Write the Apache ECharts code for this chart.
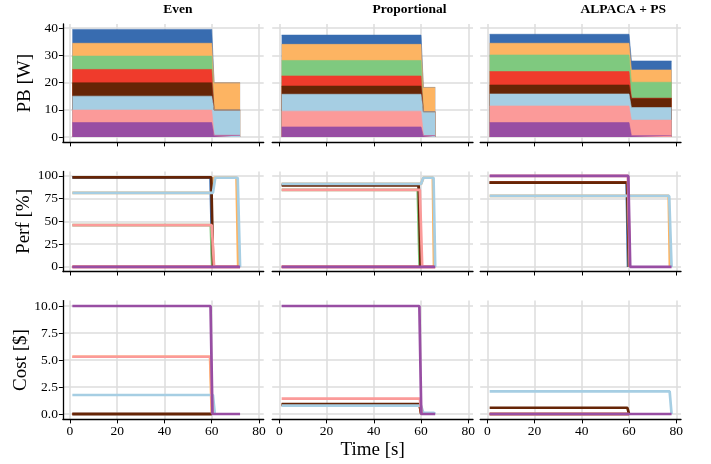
<!DOCTYPE html>
<html>
<head>
<meta charset="utf-8">
<script src="https://cdn.jsdelivr.net/npm/echarts@6/dist/echarts.min.js"></script>
<style>
html, body { margin: 0; padding: 0; background: #fff; }
#chart { width: 711px; height: 464px; }
</style>
</head>
<body>
<div id="chart"></div>
<script>
// series order: blue, orange, green, red, brown, light blue, pink, purple
const colors = ['#386cb0', '#fdb462', '#7fc97f', '#ef3b2c', '#662506', '#a6cee3', '#fb9a99', '#984ea3'];
const panelTitles = ['Even', 'Proportional', 'ALPACA + PS'];
const rowNames = ['PB [W]', 'Perf [%]', 'Cost [$]'];
const xTicks = [0, 20, 40, 60, 80];
const pbTicks = [0, 10, 20, 30, 40];
const perfTicks = [0, 25, 50, 75, 100];
const costTicks = [0, 2.5, 5, 7.5, 10];

// PB: time breakpoints and per-series power before / after t=60
const pbTimes = [[1, 60, 61, 72], [1, 60, 61, 66], [1, 60, 61, 78]];
const pbEvenBefore = [5.1, 4.7, 4.9, 4.9, 4.9, 5.1, 4.6, 5.3];
const pbEvenAfter = [0, 10.0, 0, 0, 0, 9.3, 0, 0.6];
const pbPropBefore = [3.4, 5.9, 5.7, 3.7, 3.0, 6.2, 5.8, 3.7];
const pbPropAfter = [0, 8.9, 0, 0, 0, 8.8, 0, 0.5];
const pbAlpacaBefore = [3.3, 4.3, 6.1, 4.9, 3.3, 4.4, 6.1, 5.3];
const pbAlpacaAfter = [3.3, 4.5, 5.9, 0, 3.4, 4.6, 5.7, 0.5];

// Perf [%]: [t, value] points per series
const perfEven = [
  [[1, 98.5], [59.5, 98.5], [60.3, 0]],
  [[1, 81.5], [60, 81.5], [61, 98], [70.5, 98], [71.2, 0]],
  [[1, 46], [59.6, 46], [60.2, 0]],
  [[1, 0], [72, 0]],
  [[1, 98.5], [59.8, 98.5], [60.6, 0]],
  [[1, 81.5], [60.5, 81.5], [61.5, 98], [71, 98], [72, 0]],
  [[1, 46], [60, 46], [61, 0]],
  [[1, 0], [72, 0]]
];
const perfProp = [
  [[1, 90.5], [59, 90.5], [59.8, 0]],
  [[1, 91.2], [60, 91.2], [61, 98], [65, 98], [65.5, 0]],
  [[1, 84.6], [58.6, 84.6], [59.4, 0]],
  [[1, 0], [66, 0]],
  [[1, 89.5], [59, 89.5], [59.8, 0]],
  [[1, 91.2], [60, 91.2], [61, 98], [65.3, 98], [66, 0]],
  [[1, 84.6], [59.5, 84.6], [60.5, 0]],
  [[1, 0], [66, 0]]
];
const perfAlpaca = [
  [[1, 92.6], [59, 92.6], [59.6, 0]],
  [[1, 78], [76.8, 78], [77.3, 0]],
  [[1, 92.6], [59.3, 92.6], [60, 0]],
  [[1, 92.6], [59.5, 92.6], [60.2, 0]],
  [[1, 92.6], [59.2, 92.6], [60, 0]],
  [[1, 78], [77, 78], [78, 0]],
  [[1, 100], [59.5, 100], [60.3, 0]],
  [[1, 100], [59.7, 100], [60.5, 0], [78, 0]]
];

// Cost [$]
const costEven = [
  [[1, 0], [60, 0]],
  [[1, 5.3], [59.3, 5.3], [60, 0]],
  [[1, 0], [60, 0]],
  [[1, 0], [60, 0]],
  [[1, 0], [60, 0]],
  [[1, 1.76], [60.5, 1.76], [61.3, 0]],
  [[1, 5.3], [59.5, 5.3], [60.2, 0]],
  [[1, 10], [59.5, 10], [60.3, 0], [72, 0]]
];
const costProp = [
  [[1, 0.85], [59.4, 0.85], [60.1, 0]],
  [[1, 0.85], [59.4, 0.85], [60.1, 0]],
  [[1, 0.85], [59.4, 0.85], [60.1, 0]],
  [[1, 0.85], [59.4, 0.85], [60.1, 0]],
  [[1, 0.92], [59.5, 0.92], [60.2, 0]],
  [[1, 0.77], [60, 0.77], [61, 0.1], [65.5, 0.1], [66, 0]],
  [[1, 1.42], [59.5, 1.42], [60.3, 0]],
  [[1, 10], [59.3, 10], [60.1, 0], [66, 0]]
];
const costAlpaca = [
  [[1, 0], [60, 0]],
  [[1, 0], [60, 0]],
  [[1, 0], [60, 0]],
  [[1, 0], [60, 0]],
  [[1, 0.58], [59.3, 0.58], [60, 0.02]],
  [[1, 2.1], [77.2, 2.1], [78, 0]],
  [[1, 0], [60, 0]],
  [[1, 0], [78, 0]]
];

const pbBefore = [pbEvenBefore, pbPropBefore, pbAlpacaBefore];
const pbAfter = [pbEvenAfter, pbPropAfter, pbAlpacaAfter];
const perfData = [perfEven, perfProp, perfAlpaca];
const costData = [costEven, costProp, costAlpaca];

const FONT = 'Liberation Serif';
const colLeft = [62.9, 272.2, 480.2];
const colWidth = 200.8;
const rowTop = [24, 171.4, 300.6];
const rowHeight = [118.4, 100.1, 118.8];
const yRanges = [[-1.975, 41.475], [-5, 105], [-0.5, 10.5]];
const yTicks = [pbTicks, perfTicks, costTicks];

// sum of series k..7 (purple sits at the bottom of the stack)
function cumFrom(vals, k) {
  let s = 0;
  for (let i = k; i < vals.length; i++) s += vals[i];
  return +s.toFixed(3);
}

const chart = echarts.init(document.getElementById('chart'), null, { renderer: 'canvas' });

const grids = [], xAxes = [], yAxes = [], series = [], graphics = [];
for (let r = 0; r < 3; r++) {
  for (let c = 0; c < 3; c++) {
    const gi = r * 3 + c;
    grids.push({ left: colLeft[c], top: rowTop[r], width: colWidth, height: rowHeight[r] });
    xAxes.push({
      gridIndex: gi, type: 'value', min: -3, max: 82,
      axisLine: { show: true, onZero: false, lineStyle: { color: '#000', width: 1.3 } },
      axisTick: { show: true, customValues: xTicks, length: 4, lineStyle: { color: '#000', width: 1 } },
      axisLabel: { show: r === 2, customValues: xTicks, fontFamily: FONT, fontSize: 13.5, color: '#000', margin: 5 },
      splitLine: { show: true, lineStyle: { color: '#dcdcdc', width: 1.5 } },
      name: (r === 2 && c === 1) ? 'Time [s]' : '',
      nameLocation: 'middle', nameGap: 21,
      nameTextStyle: { fontFamily: FONT, fontSize: 19, color: '#000', verticalAlign: 'top' }
    });
    yAxes.push({
      gridIndex: gi, type: 'value', min: yRanges[r][0], max: yRanges[r][1],
      axisLine: { show: c === 0, onZero: false, lineStyle: { color: '#000', width: 1.3 } },
      axisTick: { show: c === 0, customValues: yTicks[r], length: 4, lineStyle: { color: '#000', width: 1 } },
      axisLabel: {
        show: c === 0, customValues: yTicks[r], fontFamily: FONT, fontSize: 13.5, color: '#000', margin: 5,
        formatter: v => r === 2 ? v.toFixed(1) : String(v)
      },
      splitLine: { show: true, lineStyle: { color: '#dcdcdc', width: 1.5 } },
      name: c === 0 ? rowNames[r] : '',
      nameLocation: 'middle', nameGap: 28,
      nameTextStyle: { fontFamily: FONT, fontSize: 19, color: '#000' }
    });

    if (r === 0) {
      // stacked areas: draw the tallest cumulative layer first, purple last
      const t = pbTimes[c];
      for (let k = 0; k < 8; k++) {
        const b = cumFrom(pbBefore[c], k), a = cumFrom(pbAfter[c], k);
        series.push({
          type: 'line', xAxisIndex: gi, yAxisIndex: gi,
          symbol: 'none', silent: true,
          lineStyle: { width: 0.6, color: colors[k] },
          areaStyle: { color: colors[k], opacity: 1, origin: 0 },
          data: [[t[0], b], [t[1], b], [t[2], a], [t[3], a]]
        });
      }
    } else {
      const src = r === 1 ? perfData[c] : costData[c];
      for (let k = 0; k < 8; k++) {
        series.push({
          type: 'line', xAxisIndex: gi, yAxisIndex: gi,
          symbol: 'none', silent: true,
          lineStyle: { width: 2.7, color: colors[k] },
          data: src[k]
        });
      }
    }
  }
}

for (let c = 0; c < 3; c++) {
  graphics.push({
    type: 'text', left: colLeft[c] + colWidth / 2, top: 3,
    style: { text: panelTitles[c], font: 'bold 13.5px "Liberation Serif"', fill: '#000', textAlign: 'center' }
  });
}

chart.setOption({
  animation: false,
  backgroundColor: '#fff',
  grid: grids,
  xAxis: xAxes,
  yAxis: yAxes,
  series: series,
  graphic: graphics
});
</script>
</body>
</html>
